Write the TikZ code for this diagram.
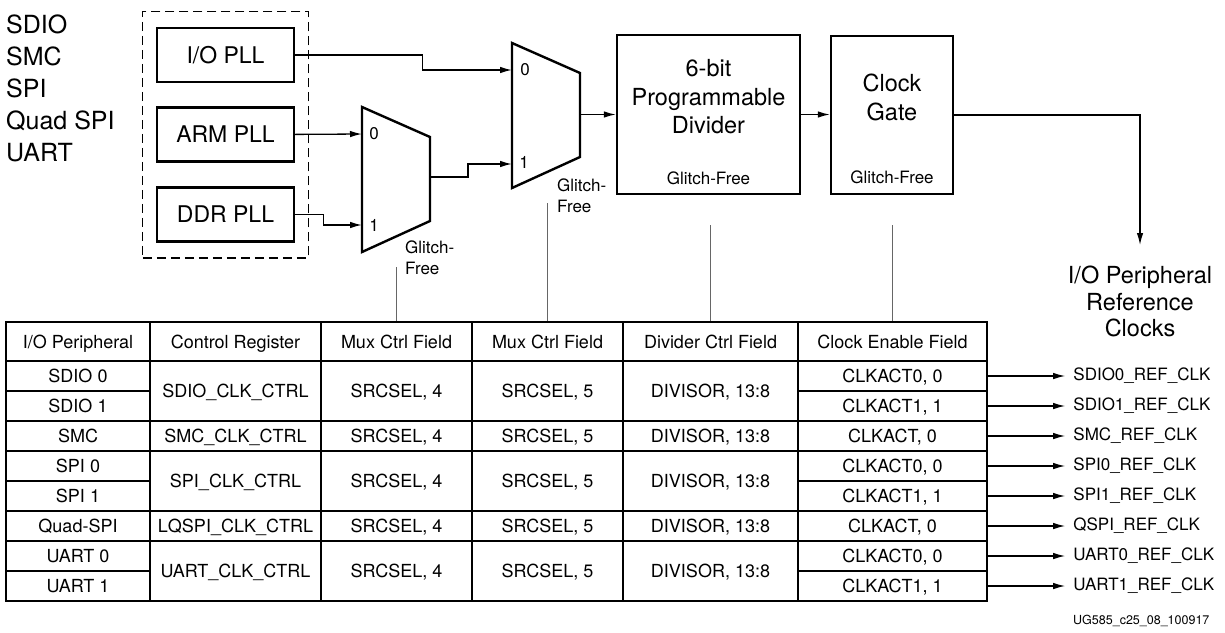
\documentclass[tikz,border=0pt]{standalone}
\usepackage{fontspec}
\setmainfont{TeX Gyre Heros}
\usetikzlibrary{arrows.meta, calc, positioning, fit}
\newcommand{\sizefont}[2]{\fontsize{#1}{#2}\selectfont}

\begin{document}
\begin{tikzpicture}[x=1pt, y=-1pt,
				pllbox/.style={draw, line width=2.4pt, minimum width=137pt,
					minimum height=54pt, font=\sizefont{23}{28}},
				blockbox/.style={draw, line width=2.4pt, inner sep=0pt},
				blocktext/.style={align=center, inner sep=0pt,
					font=\sizefont{23.5}{28.5}},
				gfree/.style={inner sep=0pt, align=left, font=\sizefont{17}{21}},
				muxline/.style={line width=2.4pt, line join=miter},
				portlbl/.style={inner sep=0pt, font=\sizefont{17}{20}},
				cell/.style={draw, line width=2.4pt, inner sep=0pt, text height=13pt,
					text depth=0pt, minimum height=30pt, font=\sizefont{18}{20}},
				colw/.style={minimum width=#1},
				outlbl/.style={inner xsep=8pt, inner ysep=0pt, anchor=west,
					font=\sizefont{17}{20}},
				arr/.style={-{Latex[length=12pt, width=6.5pt]}, line width=1.3pt},
				ctl/.style={draw=black!60, line width=1.3pt}
				]
				\useasboundingbox (0,0) rectangle (1225,632);
				% peripherals served by this clock path
				\node[anchor=north west, inner sep=0pt, align=left,
				font=\sizefont{25}{32}] (periphs) at (6,15)
				{SDIO\\SMC\\SPI\\Quad SPI\\UART};
				% PLL sources
				\node[pllbox] (iopll) at (225.5,55) {I/O PLL};
				\node[pllbox, below=23pt of iopll] (armpll) {ARM PLL};
				\node[pllbox, below=23.5pt of armpll] (ddrpll) {DDR PLL};
				\node[draw, dashed, dash pattern=on 9pt off 5pt, line width=1.2pt,
				fit=(iopll)(ddrpll), inner xsep=13pt, inner ysep=15.5pt] (pllgrp) {};
				% first mux
				\draw[muxline] (362,107) -- (430,137) -- (430,221) -- (362,252) -- cycle;
				\coordinate (mxa0) at (362,134);
				\coordinate (mxa1) at (362,225);
				\coordinate (mxaout) at (430,177);
				\node[portlbl] (mxa0l) at (374,134) {0};
				\node[portlbl] (mxa1l) at (374,225) {1};
				\node[gfree, anchor=north west] (mxagf) at (405,241) {Glitch-\\Free};
				% second mux
				\draw[muxline] (512,43) -- (580,73) -- (580,157) -- (512,188) -- cycle;
				\coordinate (mxb0) at (512,70);
				\coordinate (mxb1) at (512,164);
				\coordinate (mxbout) at (580,114.5);
				\node[portlbl] (mxb0l) at (525,70) {0};
				\node[portlbl] (mxb1l) at (524,162) {1};
				\node[gfree, anchor=north west] (mxbgf) at (557,179) {Glitch-\\Free};
				% divider and gate
				\node[blockbox, minimum width=183pt, minimum height=159pt] (divider)
				at (708.5,114.5) {};
				\node[blocktext] (divtxt) at (708.5,97) {6-bit\\Programmable\\Divider};
				\node[gfree] (divgf) at (708.5,178) {Glitch-Free};
				\node[blockbox, minimum width=122pt, minimum height=158pt] (gate)
				at (892,115) {};
				\node[blocktext] (gatetxt) at (892,97.5) {Clock\\Gate};
				\node[gfree] (gategf) at (892,177) {Glitch-Free};
				\node[blocktext, font=\sizefont{23.5}{26.5}, inner ysep=21pt,
				anchor=north] (refclk) at (1140,245)
				{I/O Peripheral\\Reference\\Clocks};
				% clock path
				\draw[arr] (armpll.east) -- (mxa0);
				\draw[arr] (ddrpll.east) -- ++(28,0) |- (mxa1);
				\draw[arr] (iopll.east) -- ++(127,0) |- (mxb0);
				\draw[arr] (mxaout) -- ++(38,0) |- (mxb1);
				\draw[arr] (mxbout) -- (divider.west);
				\draw[arr] (divider.east) -- (divider.east -| gate.west);
				\draw[arr] (gate.east) -| (refclk.north);
				% register table
				\node[cell, colw=144pt, minimum height=39pt] (hd1) at (78,341.5) {I/O Peripheral};
				\node[cell, colw=171pt, minimum height=39pt] (hd2) at (235.5,341.5) {Control Register};
				\node[cell, colw=151pt, minimum height=39pt] (hd3) at (396.5,341.5) {Mux Ctrl Field};
				\node[cell, colw=151pt, minimum height=39pt] (hd4) at (547.5,341.5) {Mux Ctrl Field};
				\node[cell, colw=175pt, minimum height=39pt] (hd5) at (710.5,341.5) {Divider Ctrl Field};
				\node[cell, colw=189pt, minimum height=39pt] (hd6) at (892.5,341.5) {Clock Enable Field};
				\foreach \reg/\yc/\hh [count=\j] in {SDIO/391/60pt, SMC/436/30pt,
					SPI/481/60pt, LQSPI/526/30pt, UART/571/60pt} {
					\node[cell, colw=171pt, minimum height=\hh] (reg\j) at (235.5,\yc) {\reg\_CLK\_CTRL};
					\node[cell, colw=151pt, minimum height=\hh] (msa\j) at (396.5,\yc) {SRCSEL, 4};
					\node[cell, colw=151pt, minimum height=\hh] (msb\j) at (547.5,\yc) {SRCSEL, 5};
					\node[cell, colw=175pt, minimum height=\hh] (dv\j) at (710.5,\yc) {DIVISOR, 13:8};
				}
				\foreach \per/\act/\clkname [count=\i] in {{SDIO 0}/{CLKACT0, 0}/SDIO0,
					{SDIO 1}/{CLKACT1, 1}/SDIO1, SMC/{CLKACT, 0}/SMC,
					{SPI 0}/{CLKACT0, 0}/SPI0, {SPI 1}/{CLKACT1, 1}/SPI1,
					Quad-SPI/{CLKACT, 0}/QSPI, {UART 0}/{CLKACT0, 0}/UART0,
					{UART 1}/{CLKACT1, 1}/UART1} {
					\node[cell, colw=144pt] (per\i) at (78,346+30*\i) {\per};
					\node[cell, colw=189pt] (en\i) at (892.5,346+30*\i) {\act};
					\node[outlbl, right=77pt of en\i] (clk\i) {\clkname\_REF\_CLK};
					\draw[arr] (en\i) -- (clk\i);
				}
				% select and control fields
				\coordinate (sela) at (396,267);
				\coordinate (selb) at (547,203);
				\coordinate (seld) at (710,225);
				\coordinate (selg) at (891,225);
				\draw[ctl] (hd3.north) -- (hd3.north |- sela);
				\draw[ctl] (hd4.north) -- (hd4.north |- selb);
				\draw[ctl] (hd5.north) -- (hd5.north |- seld);
				\draw[ctl] (hd6.north) -- (hd6.north |- selg);
				\node[anchor=west, inner sep=0pt, font=\sizefont{12.5}{15}] (figid)
				at (1073,621) {UG585\_c25\_08\_100917};
			\end{tikzpicture}
\end{document}
